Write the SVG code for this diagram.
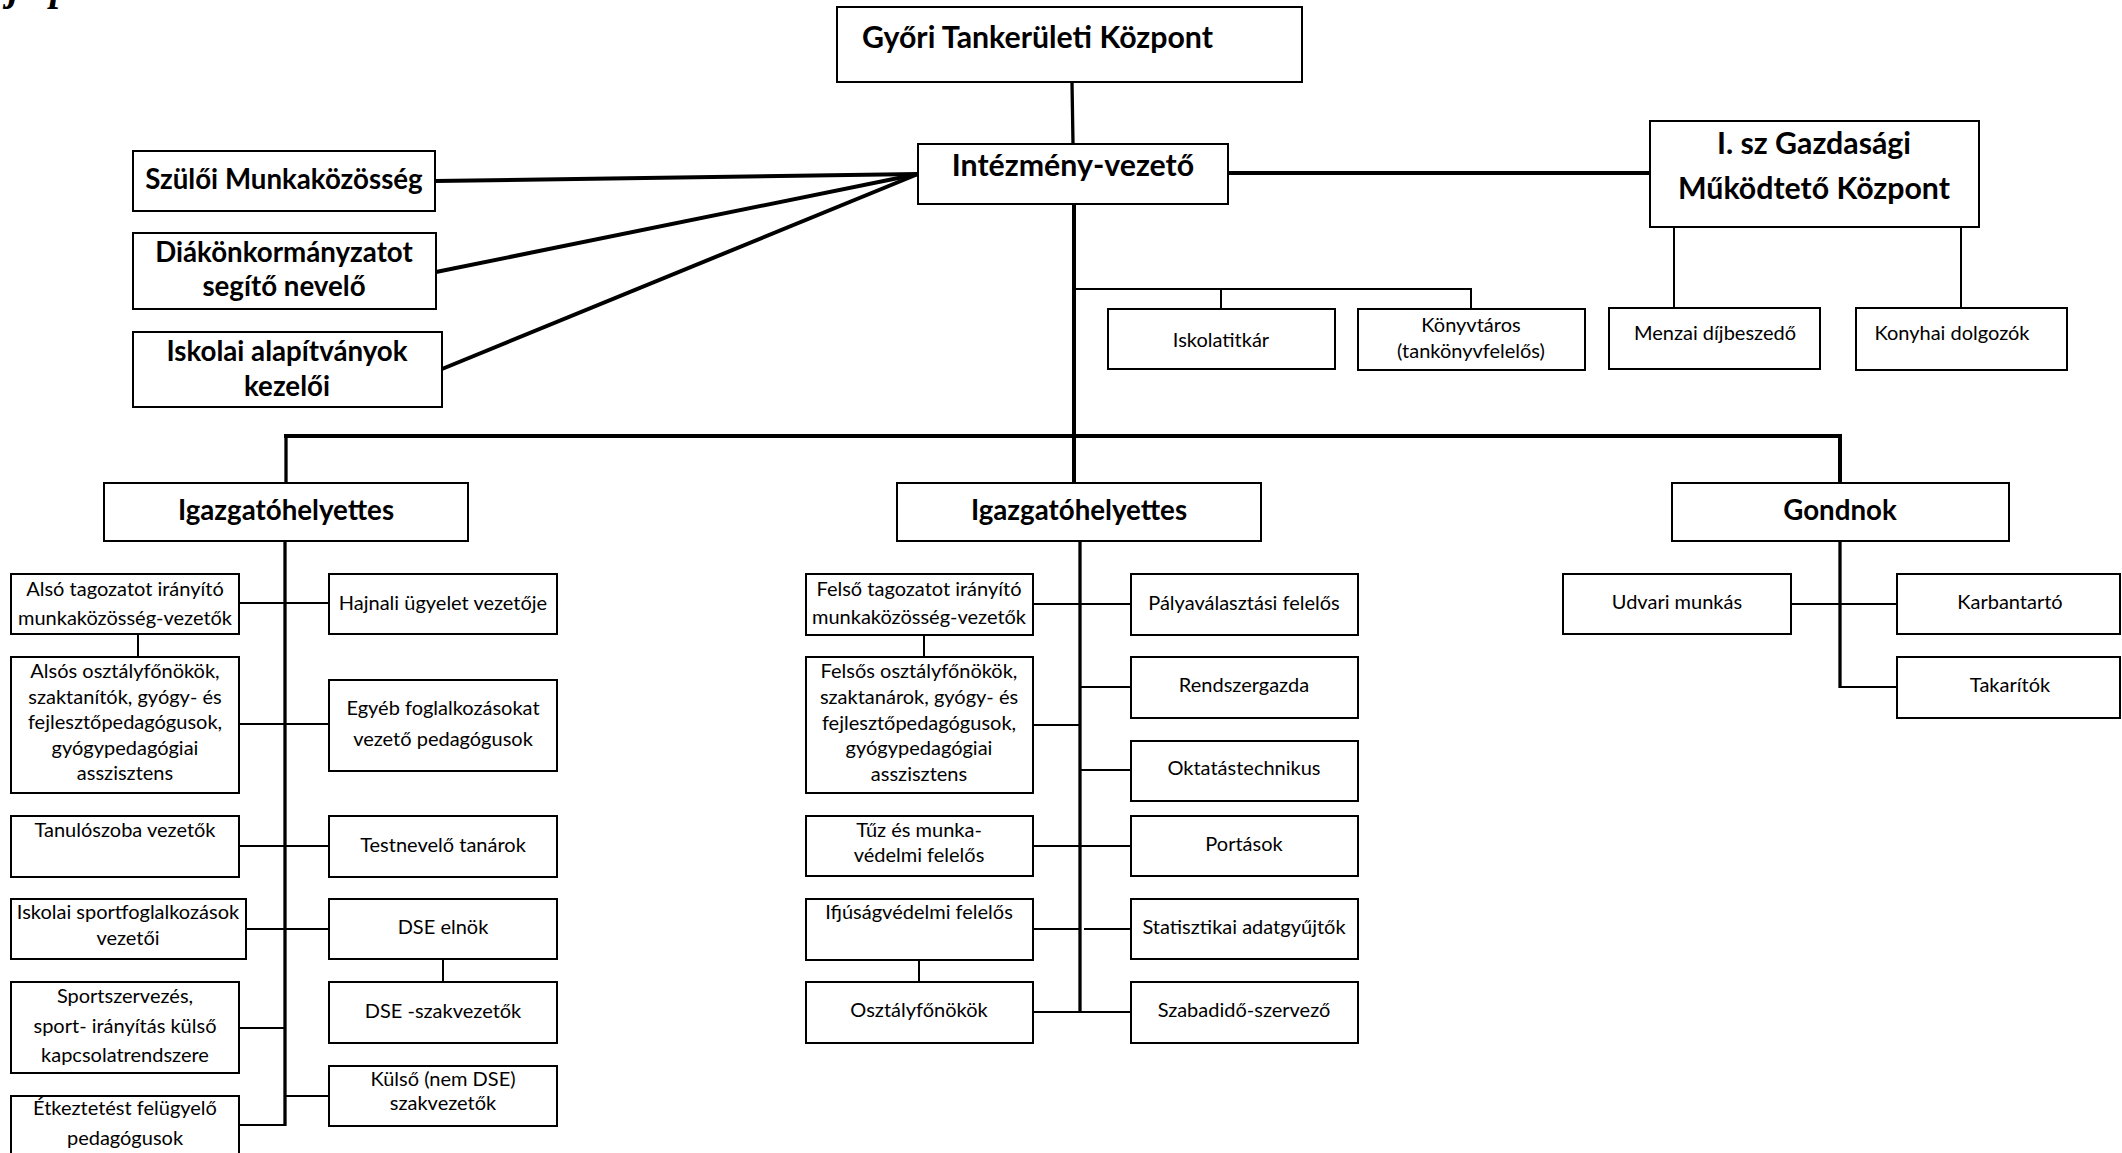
<svg xmlns="http://www.w3.org/2000/svg" width="2122" height="1153" viewBox="0 0 2122 1153">
<style>
.box{fill:#fff;stroke:#000;stroke-width:2}
.b{font-family:Lato,"Liberation Sans",sans-serif;font-weight:bold;font-size:27.7px;fill:#000}
.big{font-size:30.3px}
.t{font-family:Lato,"Liberation Sans",sans-serif;font-size:20px;fill:#000;text-anchor:middle}
.c{text-anchor:middle}
.thick{stroke:#000;stroke-width:4;fill:none}
.mid{stroke:#000;stroke-width:3.3;fill:none}
.thin{stroke:#000;stroke-width:2;fill:none}
.frag{font-family:"Liberation Serif",serif;font-style:italic;font-weight:bold;font-size:40px;fill:#000}
</style>
<rect width="2122" height="1153" fill="#fff"/>
<text class="frag" x="8" y="0">j</text>
<text class="frag" x="50" y="0">p</text>

<g id="connectors">
  <line class="mid" x1="1072" y1="82" x2="1073" y2="144"/>
  <line class="thick" x1="1074" y1="204" x2="1074" y2="483"/>
  <line class="thick" x1="284" y1="436" x2="1842" y2="436"/>
  <line class="mid" x1="286" y1="436" x2="286" y2="483"/>
  <line class="thick" x1="1840" y1="436" x2="1840" y2="483"/>
  <line class="thick" x1="435" y1="181" x2="918" y2="174"/>
  <line class="thick" x1="436" y1="272" x2="918" y2="174"/>
  <line class="thick" x1="442" y1="369" x2="918" y2="174"/>
  <line class="thick" x1="1228" y1="173" x2="1650" y2="173"/>
  <polyline class="thin" points="1074,289 1471,289 1471,309"/>
  <line class="thin" x1="1221" y1="289" x2="1221" y2="309"/>
  <line class="thin" x1="1674" y1="227" x2="1674" y2="308"/>
  <line class="thin" x1="1961" y1="227" x2="1961" y2="308"/>
  <line class="mid" x1="285" y1="541" x2="285" y2="1126"/>
  <line class="thin" x1="239" y1="603" x2="329" y2="603"/>
  <line class="thin" x1="138" y1="634" x2="138" y2="657"/>
  <line class="thin" x1="239" y1="724" x2="329" y2="724"/>
  <line class="thin" x1="239" y1="846" x2="329" y2="846"/>
  <line class="thin" x1="246" y1="929" x2="329" y2="929"/>
  <line class="thin" x1="443" y1="959" x2="443" y2="982"/>
  <line class="thin" x1="239" y1="1028" x2="285" y2="1028"/>
  <line class="thin" x1="285" y1="1096" x2="329" y2="1096"/>
  <line class="thin" x1="239" y1="1125" x2="285" y2="1125"/>
  <line class="mid" x1="1080" y1="541" x2="1080" y2="1013"/>
  <line class="thin" x1="1033" y1="604" x2="1131" y2="604"/>
  <line class="thin" x1="924" y1="635" x2="924" y2="657"/>
  <line class="thin" x1="1033" y1="725" x2="1080" y2="725"/>
  <line class="thin" x1="1080" y1="687" x2="1131" y2="687"/>
  <line class="thin" x1="1080" y1="770" x2="1131" y2="770"/>
  <line class="thin" x1="1033" y1="846" x2="1131" y2="846"/>
  <line class="thin" x1="1033" y1="929" x2="1080" y2="929"/>
  <line class="thin" x1="1084" y1="929" x2="1131" y2="929"/>
  <line class="thin" x1="919" y1="960" x2="919" y2="982"/>
  <line class="thin" x1="1033" y1="1012" x2="1131" y2="1012"/>
  <line class="mid" x1="1840" y1="541" x2="1840" y2="688"/>
  <line class="thin" x1="1791" y1="604" x2="1897" y2="604"/>
  <line class="thin" x1="1840" y1="687" x2="1897" y2="687"/>
</g>

<g id="n-tankerulet"><rect class="box" x="837" y="7" width="465" height="75"/><text class="b big" x="862" y="48">Győri Tankerületi Központ</text></g>
<g id="n-intezmenyvezeto"><rect class="box" x="918" y="144" width="310" height="60"/><text class="b big c" x="1073" y="176">Intézmény-vezető</text></g>
<g id="n-szuloi"><rect class="box" x="133" y="151" width="302" height="60"/><text class="b c" x="284" y="189">Szülői Munkaközösség</text></g>
<g id="n-diak"><rect class="box" x="133" y="233" width="303" height="76"/><text class="b c" x="284" y="262">Diákönkormányzatot</text><text class="b c" x="284" y="296">segítő nevelő</text></g>
<g id="n-alapitvany"><rect class="box" x="133" y="332" width="309" height="75"/><text class="b c" x="287" y="361">Iskolai alapítványok</text><text class="b c" x="287" y="396">kezelői</text></g>
<g id="n-gmk"><rect class="box" x="1650" y="121" width="329" height="106"/><text class="b big c" x="1814" y="154">I. sz Gazdasági</text><text class="b big c" x="1814" y="199">Működtető Központ</text></g>
<g id="n-iskolatitkar"><rect class="box" x="1108" y="309" width="227" height="60"/><text class="t" x="1221" y="347">Iskolatitkár</text></g>
<g id="n-konyvtaros"><rect class="box" x="1358" y="309" width="227" height="61"/><text class="t" x="1471" y="332">Könyvtáros</text><text class="t" x="1471" y="358">(tankönyvfelelős)</text></g>
<g id="n-menzai"><rect class="box" x="1609" y="308" width="211" height="61"/><text class="t" x="1715" y="340">Menzai díjbeszedő</text></g>
<g id="n-konyhai"><rect class="box" x="1856" y="308" width="211" height="62"/><text class="t" x="1952" y="340">Konyhai dolgozók</text></g>

<g id="n-igh1"><rect class="box" x="104" y="483" width="364" height="58"/><text class="b c" x="286" y="520">Igazgatóhelyettes</text></g>
<g id="n-igh2"><rect class="box" x="897" y="483" width="364" height="58"/><text class="b c" x="1079" y="520">Igazgatóhelyettes</text></g>
<g id="n-gondnok"><rect class="box" x="1672" y="483" width="337" height="58"/><text class="b c" x="1840" y="520">Gondnok</text></g>

<g id="n-also-tag"><rect class="box" x="11" y="574" width="228" height="60"/><text class="t" x="125" y="596">Alsó tagozatot irányító</text><text class="t" x="125" y="625">munkaközösség-vezetők</text></g>
<g id="n-hajnali"><rect class="box" x="329" y="574" width="228" height="60"/><text class="t" x="443" y="610">Hajnali ügyelet vezetője</text></g>
<g id="n-alsos"><rect class="box" x="11" y="657" width="228" height="136"/><text class="t" x="125" y="678">Alsós osztályfőnökök,</text><text class="t" x="125" y="704">szaktanítók, gyógy- és</text><text class="t" x="125" y="729">fejlesztőpedagógusok,</text><text class="t" x="125" y="755">gyógypedagógiai</text><text class="t" x="125" y="780">asszisztens</text></g>
<g id="n-egyeb"><rect class="box" x="329" y="680" width="228" height="91"/><text class="t" x="443" y="715">Egyéb foglalkozásokat</text><text class="t" x="443" y="746">vezető pedagógusok</text></g>
<g id="n-tanuloszoba"><rect class="box" x="11" y="816" width="228" height="61"/><text class="t" x="125" y="837">Tanulószoba vezetők</text></g>
<g id="n-testnevelo"><rect class="box" x="329" y="816" width="228" height="61"/><text class="t" x="443" y="852">Testnevelő tanárok</text></g>
<g id="n-isk-sport"><rect class="box" x="11" y="899" width="235" height="60"/><text class="t" x="128" y="919">Iskolai sportfoglalkozások</text><text class="t" x="128" y="945">vezetői</text></g>
<g id="n-dse-elnok"><rect class="box" x="329" y="899" width="228" height="60"/><text class="t" x="443" y="934">DSE elnök</text></g>
<g id="n-dse-szak"><rect class="box" x="329" y="982" width="228" height="61"/><text class="t" x="443" y="1018">DSE -szakvezetők</text></g>
<g id="n-sportszervezes"><rect class="box" x="11" y="982" width="228" height="91"/><text class="t" x="125" y="1003">Sportszervezés,</text><text class="t" x="125" y="1033">sport- irányítás külső</text><text class="t" x="125" y="1062">kapcsolatrendszere</text></g>
<g id="n-kulso"><rect class="box" x="329" y="1066" width="228" height="60"/><text class="t" x="443" y="1086">Külső (nem DSE)</text><text class="t" x="443" y="1110">szakvezetők</text></g>
<g id="n-etkeztetes"><rect class="box" x="11" y="1096" width="228" height="75"/><text class="t" x="125" y="1115">Étkeztetést felügyelő</text><text class="t" x="125" y="1145">pedagógusok</text></g>

<g id="n-felso-tag"><rect class="box" x="806" y="574" width="227" height="61"/><text class="t" x="919" y="596">Felső tagozatot irányító</text><text class="t" x="919" y="624">munkaközösség-vezetők</text></g>
<g id="n-palya"><rect class="box" x="1131" y="574" width="227" height="61"/><text class="t" x="1244" y="610">Pályaválasztási felelős</text></g>
<g id="n-felsos"><rect class="box" x="806" y="657" width="227" height="136"/><text class="t" x="919" y="678">Felsős osztályfőnökök,</text><text class="t" x="919" y="704">szaktanárok, gyógy- és</text><text class="t" x="919" y="730">fejlesztőpedagógusok,</text><text class="t" x="919" y="755">gyógypedagógiai</text><text class="t" x="919" y="781">asszisztens</text></g>
<g id="n-rendszergazda"><rect class="box" x="1131" y="657" width="227" height="61"/><text class="t" x="1244" y="692">Rendszergazda</text></g>
<g id="n-oktatastech"><rect class="box" x="1131" y="741" width="227" height="60"/><text class="t" x="1244" y="775">Oktatástechnikus</text></g>
<g id="n-tuz"><rect class="box" x="806" y="816" width="227" height="60"/><text class="t" x="919" y="837">Tűz és munka-</text><text class="t" x="919" y="862">védelmi felelős</text></g>
<g id="n-portasok"><rect class="box" x="1131" y="816" width="227" height="60"/><text class="t" x="1244" y="851">Portások</text></g>
<g id="n-ifjusag"><rect class="box" x="806" y="899" width="227" height="61"/><text class="t" x="919" y="919">Ifjúságvédelmi felelős</text></g>
<g id="n-statisztikai"><rect class="box" x="1131" y="899" width="227" height="60"/><text class="t" x="1244" y="934">Statisztikai adatgyűjtők</text></g>
<g id="n-osztalyfonokok"><rect class="box" x="806" y="982" width="227" height="61"/><text class="t" x="919" y="1017">Osztályfőnökök</text></g>
<g id="n-szabadido"><rect class="box" x="1131" y="982" width="227" height="61"/><text class="t" x="1244" y="1017">Szabadidő-szervező</text></g>

<g id="n-udvari"><rect class="box" x="1563" y="574" width="228" height="60"/><text class="t" x="1677" y="609">Udvari munkás</text></g>
<g id="n-karbantarto"><rect class="box" x="1897" y="574" width="223" height="60"/><text class="t" x="2010" y="609">Karbantartó</text></g>
<g id="n-takaritok"><rect class="box" x="1897" y="657" width="223" height="61"/><text class="t" x="2010" y="692">Takarítók</text></g>
</svg>
